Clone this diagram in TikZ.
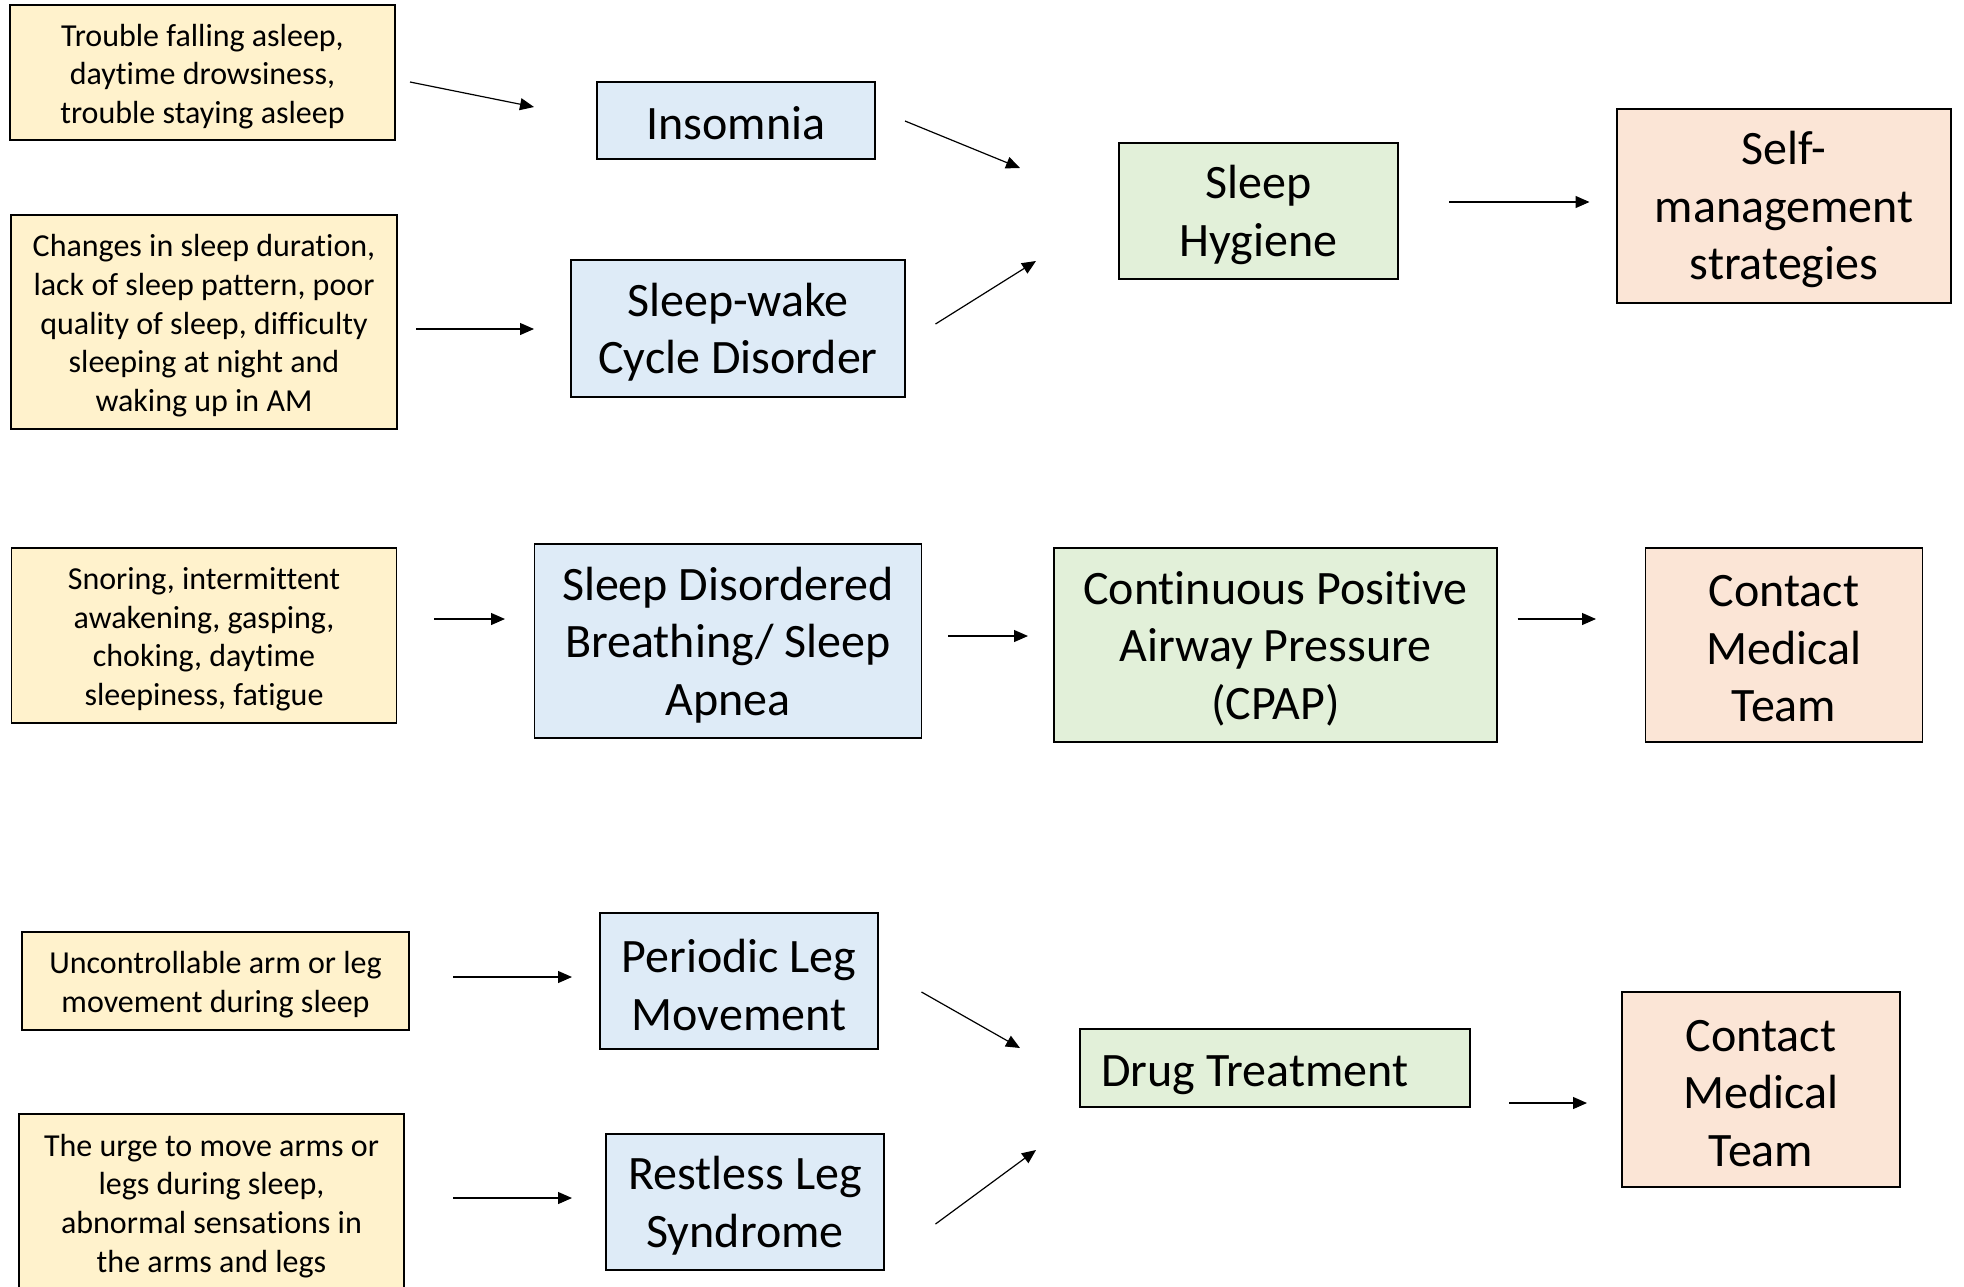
\documentclass[tikz,border=0pt]{standalone}
\usepackage{fontspec}
\setmainfont{Carlito}[Ligatures=NoCommon]
\usetikzlibrary{arrows.meta}
\definecolor{symfill}{HTML}{FFF2CC}
\definecolor{disfill}{HTML}{DEEBF7}
\definecolor{trtfill}{HTML}{E2F0D9}
\definecolor{outfill}{HTML}{FBE5D6}
\tikzset{
  box/.style={draw=black, line width=0.8pt, inner sep=0pt},
  symbox/.style={box, fill=symfill},
  disbox/.style={box, fill=disfill},
  trtbox/.style={box, fill=trtfill},
  outbox/.style={box, fill=outfill},
  smalltxt/.style={align=center, inner sep=0pt, font=\fontsize{16}{19.3}\selectfont},
  bigtxt/.style={align=center, inner sep=0pt, font=\fontsize{24}{28.8}\selectfont},
  arr/.style={line width=0.6pt, -{Triangle[length=7pt,width=6pt]}}
}
\begin{document}
\begin{tikzpicture}[x=0.5pt, y=-0.5pt]
\useasboundingbox (0,0) rectangle (1964,1286);
\fill[white] (0,0) rectangle (1964,1286);
% symptom boxes
\node[symbox, minimum width=192.5pt, minimum height=67.5pt] (symA) at (202.5,72.5) {};
\node[smalltxt] (symAt) at ([yshift=-1.9pt]symA.center) {Trouble falling asleep,\\daytime drowsiness,\\trouble staying asleep};
\node[symbox, minimum width=193pt, minimum height=107pt] (symB) at (204,322) {};
\node[smalltxt] (symBt) at ([yshift=-1.9pt]symB.center) {Changes in sleep duration,\\lack of sleep pattern, poor\\quality of sleep, difficulty\\sleeping at night and\\waking up in AM};
\node[symbox, minimum width=192.5pt, minimum height=87.5pt] (symC) at (204,635.5) {};
\node[smalltxt] (symCt) at ([yshift=-1.9pt]symC.center) {Snoring, intermittent\\awakening, gasping,\\choking, daytime\\sleepiness, fatigue};
\node[symbox, minimum width=193.5pt, minimum height=49pt] (symD) at (215.5,981) {};
\node[smalltxt] (symDt) at ([yshift=-1.9pt]symD.center) {Uncontrollable arm or leg\\movement during sleep};
\node[symbox, minimum width=192.5pt, minimum height=88pt] (symE) at (211.5,1202) {};
\node[smalltxt] (symEt) at ([yshift=-1.9pt]symE.center) {The urge to move arms or\\legs during sleep,\\abnormal sensations in\\the arms and legs};
% disorders
\node[disbox, minimum width=139pt, minimum height=38.5pt] (ins) at (736,120.5) {};
\node[bigtxt] (inst) at ([yshift=-1.2pt]ins.center) {Insomnia};
\node[disbox, minimum width=167pt, minimum height=68.5pt] (swc) at (738,328.5) {};
\node[bigtxt] (swct) at ([yshift=-1.9pt]swc.center) {Sleep-wake\\Cycle Disorder};
\node[disbox, minimum width=193.5pt, minimum height=97pt] (sdb) at (728,641) {};
\node[bigtxt] (sdbt) at ([yshift=-1.9pt]sdb.center) {Sleep Disordered\\Breathing/ Sleep\\Apnea};
\node[disbox, minimum width=139pt, minimum height=68pt] (plm) at (739,981) {};
\node[bigtxt] (plmt) at ([yshift=-1.9pt]plm.center) {Periodic Leg\\Movement};
\node[disbox, minimum width=139pt, minimum height=68pt] (rls) at (745,1202) {};
\node[bigtxt] (rlst) at ([yshift=-1.9pt]rls.center) {Restless Leg\\Syndrome};
% treatments
\node[trtbox, minimum width=139.5pt, minimum height=68pt] (shy) at (1258.5,211) {};
\node[bigtxt] (shyt) at ([yshift=-1.9pt]shy.center) {Sleep\\Hygiene};
\node[trtbox, minimum width=221.5pt, minimum height=97pt] (cpap) at (1275.5,645) {};
\node[bigtxt] (cpapt) at ([yshift=-1.9pt]cpap.center) {Continuous Positive\\Airway Pressure\\(CPAP)};
\node[trtbox, minimum width=195pt, minimum height=39pt] (drug) at (1275,1068) {};
\node[bigtxt, anchor=west] (drugt) at (1101,1075) {Drug Treatment};
% outcomes
\node[outbox, minimum width=167pt, minimum height=97pt] (self) at (1784,206) {};
\node[bigtxt] (selft) at ([yshift=-1.9pt]self.center) {Self-\\management\\strategies};
\node[outbox, minimum width=138.5pt, minimum height=97pt] (med1) at (1784,645) {};
\node[bigtxt] (med1t) at ([yshift=-1.9pt]med1.center) {Contact\\Medical\\Team};
\node[outbox, minimum width=139pt, minimum height=97.5pt] (med2) at (1761,1089.5) {};
\node[bigtxt] (med2t) at ([yshift=-1.9pt]med2.center) {Contact\\Medical\\Team};
% arrow end points
\coordinate (a1s) at (410,82);    \coordinate (a1e) at (534,107);
\coordinate (a2s) at (416,329);   \coordinate (a2e) at (534,329);
\coordinate (a3s) at (905,121);   \coordinate (a3e) at (1020,168);
\coordinate (a4s) at (935.5,324); \coordinate (a4e) at (1036,261);
\coordinate (a5s) at (1449,202);  \coordinate (a5e) at (1589.5,202);
\coordinate (a6s) at (434,619);   \coordinate (a6e) at (505,619);
\coordinate (a7s) at (948,636);   \coordinate (a7e) at (1028,636);
\coordinate (a8s) at (1517.5,619);\coordinate (a8e) at (1596,619);
\coordinate (a9s) at (453,977);   \coordinate (a9e) at (572,977);
\coordinate (a10s) at (453,1198); \coordinate (a10e) at (572,1198);
\coordinate (a11s) at (921.5,992);\coordinate (a11e) at (1020,1048);
\coordinate (a12s) at (935.5,1224);\coordinate (a12e) at (1036,1150);
\coordinate (a13s) at (1509,1103);\coordinate (a13e) at (1587,1103);
% connectors
\draw[arr] (a1s) -- (a1e);
\draw[arr] (a2s) -- (a2e);
\draw[arr] (a3s) -- (a3e);
\draw[arr] (a4s) -- (a4e);
\draw[arr] (a5s) -- (a5e);
\draw[arr] (a6s) -- (a6e);
\draw[arr] (a7s) -- (a7e);
\draw[arr] (a8s) -- (a8e);
\draw[arr] (a9s) -- (a9e);
\draw[arr] (a10s) -- (a10e);
\draw[arr] (a11s) -- (a11e);
\draw[arr] (a12s) -- (a12e);
\draw[arr] (a13s) -- (a13e);
\end{tikzpicture}
\end{document}
